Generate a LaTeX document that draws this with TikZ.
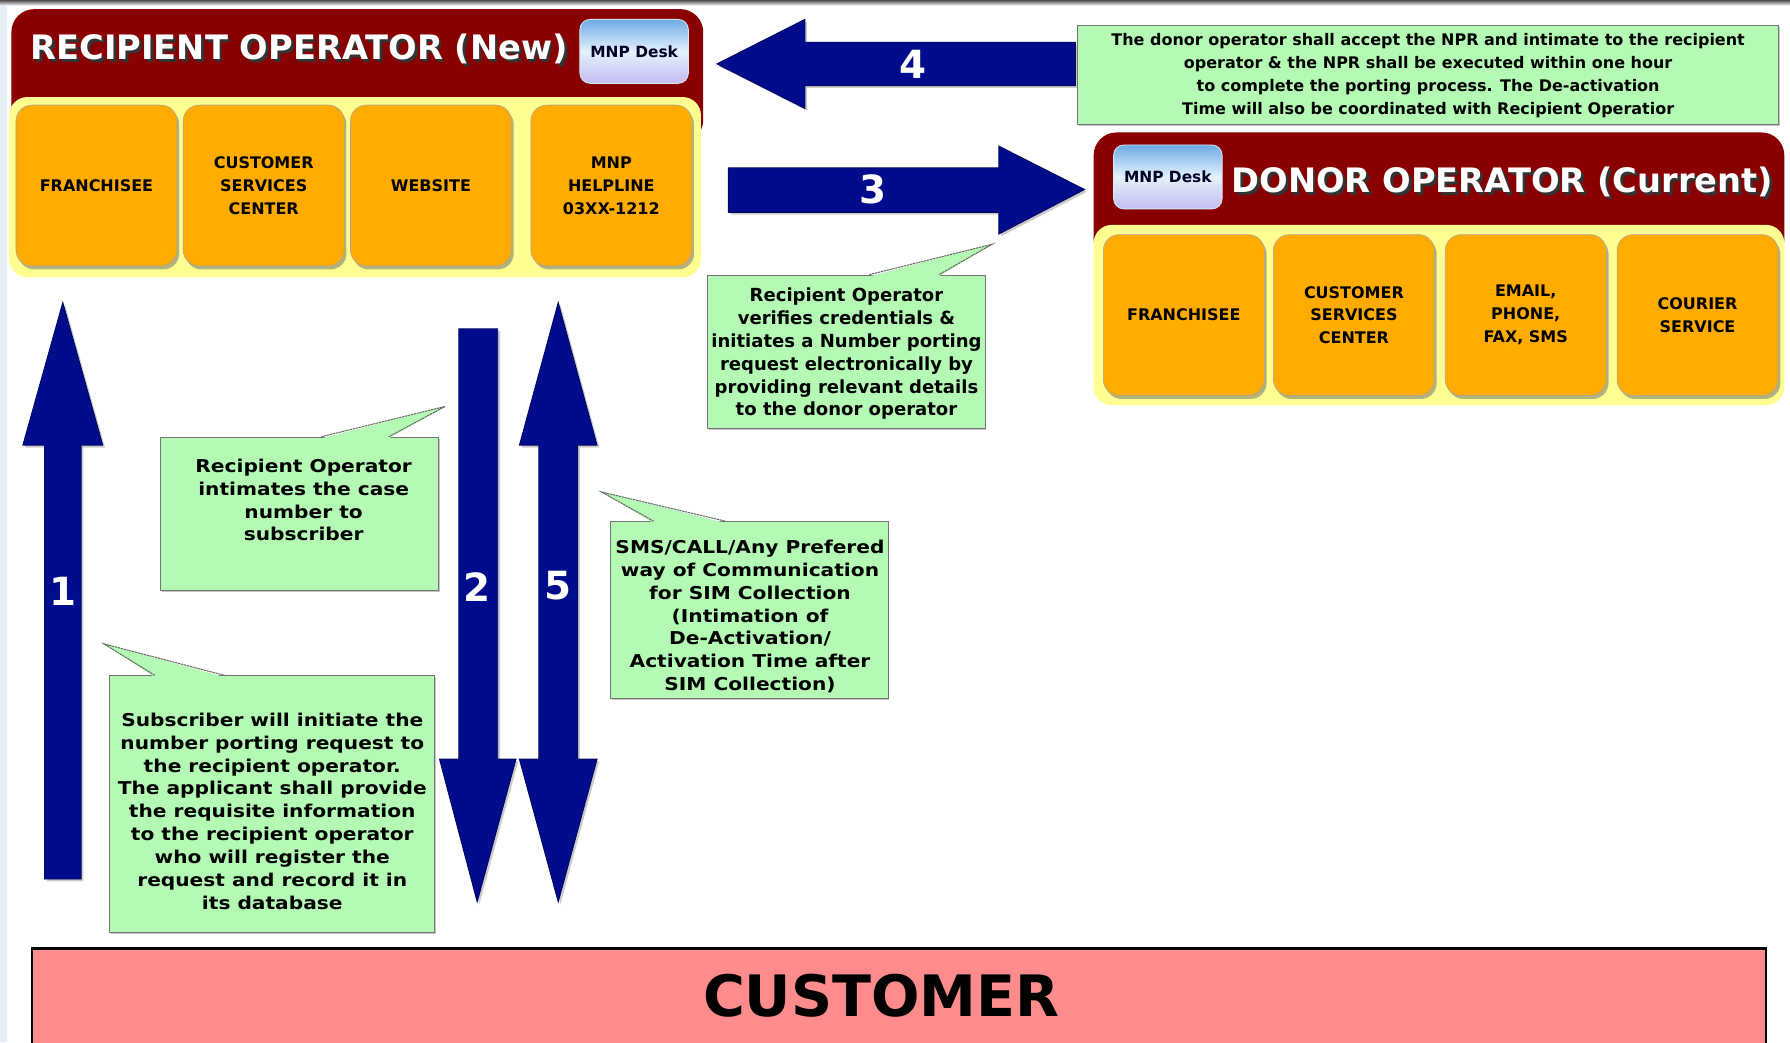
\documentclass[tikz,border=0pt]{standalone}
\usepackage{fontspec}
\setmainfont{DejaVu Sans}
\newfontfamily\widefont{DejaVu Sans}[FakeStretch=1.14]
\usetikzlibrary{shadows,calc}

\definecolor{oprred}{RGB}{138,0,0}
\definecolor{panelyel}{RGB}{255,255,145}
\definecolor{boxorange}{RGB}{255,171,0}
\definecolor{callgreen}{RGB}{180,250,180}
\definecolor{arrownavy}{RGB}{0,12,140}
\definecolor{custpink}{RGB}{255,140,140}
\definecolor{stripblue}{RGB}{230,237,246}
\definecolor{deskblue}{RGB}{110,170,228}
\definecolor{desklav}{RGB}{196,188,240}
\definecolor{deskwhite}{RGB}{228,242,252}

\newcommand\shadowed[1]{\leavevmode\rlap{\hspace{2.5pt}\raisebox{-2.5pt}{\textcolor{black!80}{#1}}}\textcolor{white}{#1}}

\begin{document}
\begin{tikzpicture}[x=1pt,y=-1pt,
 lbl/.style={font=\fontsize{14}{20}\selectfont\bfseries, align=center, text=black},
 orangebox/.style={fill=boxorange, draw=black!35, line width=0.5pt, rounded corners=14pt,
   minimum width=141pt, minimum height=141pt, inner sep=0pt,
   drop shadow={shadow xshift=2pt,shadow yshift=-3pt,fill=black!60}},
 redpanel/.style={fill=oprred, rounded corners=20pt, inner sep=0pt},
 yelpanel/.style={fill=panelyel, rounded corners=16pt, inner sep=0pt},
 title/.style={font=\fontsize{29.5}{32}\selectfont\bfseries, inner sep=0pt},
 desk/.style={rounded corners=9pt, top color=deskblue, bottom color=desklav, middle color=deskwhite,
   draw=white!70!deskblue, line width=0.8pt, minimum width=95pt, minimum height=56pt,
   font=\fontsize{13.5}{14}\selectfont\bfseries, text=black!85!blue, inner sep=0pt},
 callout/.style={fill=callgreen, draw=black!55, line width=0.9pt,
   drop shadow={shadow xshift=1pt,shadow yshift=-1.5pt,fill=black!45}, inner sep=0pt},
 calltext/.style={font=\fontsize{15.8}{20}\selectfont\bfseries, align=center, inner sep=0pt},
 widetext/.style={font=\widefont\fontsize{15.5}{20}\selectfont\bfseries, align=center, inner sep=0pt},
 smalltext/.style={font=\fontsize{14}{20}\selectfont\bfseries, align=center, inner sep=0pt},
 tailfill/.style={fill=callgreen},
 tailline/.style={draw=black!60, line width=0.9pt, dash pattern=on 2pt off 0.6pt},
 blockarrow/.style={fill=arrownavy, draw=arrownavy!70!black, line width=0.8pt,
   drop shadow={shadow xshift=2pt,shadow yshift=-2pt,fill=black!40}},
 num/.style={font=\fontsize{34}{34}\selectfont\bfseries, text=white, inner sep=0pt},
]
\useasboundingbox (0,0) rectangle (1568,913);
\fill[white] (0,0) rectangle (1568,913);
\fill[stripblue] (0,0) rectangle (6,913);
\shade[top color=black!70, bottom color=white] (0,0) rectangle (1568,5);

% ---------- Recipient operator ----------
\node[redpanel, minimum width=606pt, minimum height=117pt] (recred) at (313,66.5) {};
\node[yelpanel, minimum width=606pt, minimum height=158pt] (recyel) at (311,164) {};
\node[title] (rectitle) at (262,44) {\shadowed{RECIPIENT OPERATOR (New)}};
\node[desk] (recdesk) at (555.5,45) {MNP Desk};
\node[orangebox, lbl] (r1) at (84.5,162.5) {FRANCHISEE};
\node[orangebox, lbl] (r2) at (231,162.5) {CUSTOMER\\SERVICES\\CENTER};
\node[orangebox, lbl] (r3) at (377.5,162.5) {WEBSITE};
\node[orangebox, lbl] (r4) at (535.5,162.5) {MNP\\HELPLINE\\03XX-1212};

% ---------- Donor operator ----------
\node[redpanel, minimum width=605pt, minimum height=114pt] (donred) at (1260.5,173) {};
\node[yelpanel, minimum width=605pt, minimum height=158pt] (donyel) at (1260.5,276) {};
\node[title] (dontitle) at (1316,161) {\shadowed{DONOR OPERATOR (Current)}};
\node[desk] (dondesk) at (1023,155) {MNP Desk};
\node[orangebox, lbl] (d1) at (1037,276) {FRANCHISEE};
\node[orangebox, lbl] (d2) at (1186,276) {CUSTOMER\\SERVICES\\CENTER};
\node[orangebox, lbl] (d3) at (1336.5,276) {EMAIL,\\PHONE,\\FAX, SMS};
\node[orangebox, lbl] (d4) at (1487,276) {COURIER\\SERVICE};

% ---------- Block arrows ----------
% 4 (left)
\path[blockarrow] (628,56) -- (705,17) -- (705,37) -- (942,37) -- (942,75) -- (705,75) -- (705,95) -- cycle;
\node[num] (n4) at (800,56) {4};
% 3 (right)
\path[blockarrow] (638,147) -- (875,147) -- (875,128) -- (950,166) -- (875,205) -- (875,186) -- (638,186) -- cycle;
\node[num] (n3) at (765,166) {3};
% 1 (up)
\path[blockarrow] (39,770) -- (39,390) -- (20,390) -- (55,265) -- (90,390) -- (71,390) -- (71,770) -- cycle;
\node[num] (n1) at (55,518) {1};
% 2 (down)
\path[blockarrow] (402,288) -- (436,288) -- (436,665) -- (452,665) -- (418,790) -- (385,665) -- (402,665) -- cycle;
\node[num] (n2) at (418,514) {2};
% 5 (both)
\path[blockarrow] (489,265) -- (523,390) -- (506,390) -- (506,665) -- (523,665) -- (489,790) -- (455,665) -- (472,665) -- (472,390) -- (455,390) -- cycle;
\node[num] (n5) at (489,513) {5};

% ---------- Callouts ----------
\node[callout, minimum width=614pt, minimum height=87pt] (c4) at (1251,65.5) {};
\node[smalltext] (c4t) at (1251,66) {The donor operator shall accept the NPR and intimate to the recipient\\operator \& the NPR shall be executed within one hour\\to complete the porting process. The De-activation\\Time will also be coordinated with Recipient Operatior};

\node[callout, minimum width=243pt, minimum height=134pt] (c3) at (741.5,308) {};
\coordinate (t3) at (869,214);
\fill[tailfill] ([xshift=142pt,yshift=-1.5pt]c3.north west) -- (t3) -- ([xshift=203pt,yshift=-1.5pt]c3.north west) -- cycle;
\draw[tailline] ([xshift=142pt]c3.north west) -- (t3) -- ([xshift=203pt]c3.north west);
\node[calltext] (c3t) at (741.5,310) {Recipient Operator\\verifies credentials \&\\initiates a Number porting\\request electronically by\\providing relevant details\\to the donor operator};

\node[callout, minimum width=243pt, minimum height=134pt] (c2) at (262.5,450) {};
\coordinate (t2) at (390,356);
\fill[tailfill] ([xshift=141pt,yshift=-1.5pt]c2.north west) -- (t2) -- ([xshift=200pt,yshift=-1.5pt]c2.north west) -- cycle;
\draw[tailline] ([xshift=141pt]c2.north west) -- (t2) -- ([xshift=200pt]c2.north west);
\node[widetext] (c2t) at (266,438) {Recipient Operator\\intimates the case\\number to\\subscriber};

\node[callout, minimum width=285pt, minimum height=225pt] (c1) at (238.5,704.5) {};
\coordinate (t1) at (91,564);
\fill[tailfill] ([xshift=40pt,yshift=-1.5pt]c1.north west) -- (t1) -- ([xshift=101pt,yshift=-1.5pt]c1.north west) -- cycle;
\draw[tailline] ([xshift=40pt]c1.north west) -- (t1) -- ([xshift=101pt]c1.north west);
\node[widetext] (c1t) at (238.5,710.5) {Subscriber will initiate the\\number porting request to\\the recipient operator.\\The applicant shall provide\\the requisite information\\to the recipient operator\\who will register the\\request and record it in\\its database};

\node[callout, minimum width=243pt, minimum height=155pt] (c5) at (656.5,534.5) {};
\coordinate (t5) at (527,431);
\fill[tailfill] ([xshift=38pt,yshift=-1.5pt]c5.north west) -- (t5) -- ([xshift=101pt,yshift=-1.5pt]c5.north west) -- cycle;
\draw[tailline] ([xshift=38pt]c5.north west) -- (t5) -- ([xshift=101pt]c5.north west);
\node[widetext] (c5t) at (657,540) {SMS/CALL/Any Prefered\\way of Communication\\for SIM Collection\\(Intimation of\\De-Activation/\\Activation Time after\\SIM Collection)};

% ---------- Customer ----------
\node[fill=custpink, draw=black, line width=1.5pt, minimum width=1519pt, minimum height=110pt, inner sep=0pt, anchor=north] (cust) at (787.5,831) {};
\draw[black, line width=3pt] (cust.north west) -- (cust.north east);
\node[font=\fontsize{50}{50}\selectfont\bfseries, inner sep=0pt] (custt) at (772,872) {CUSTOMER};
\end{tikzpicture}
\end{document}
